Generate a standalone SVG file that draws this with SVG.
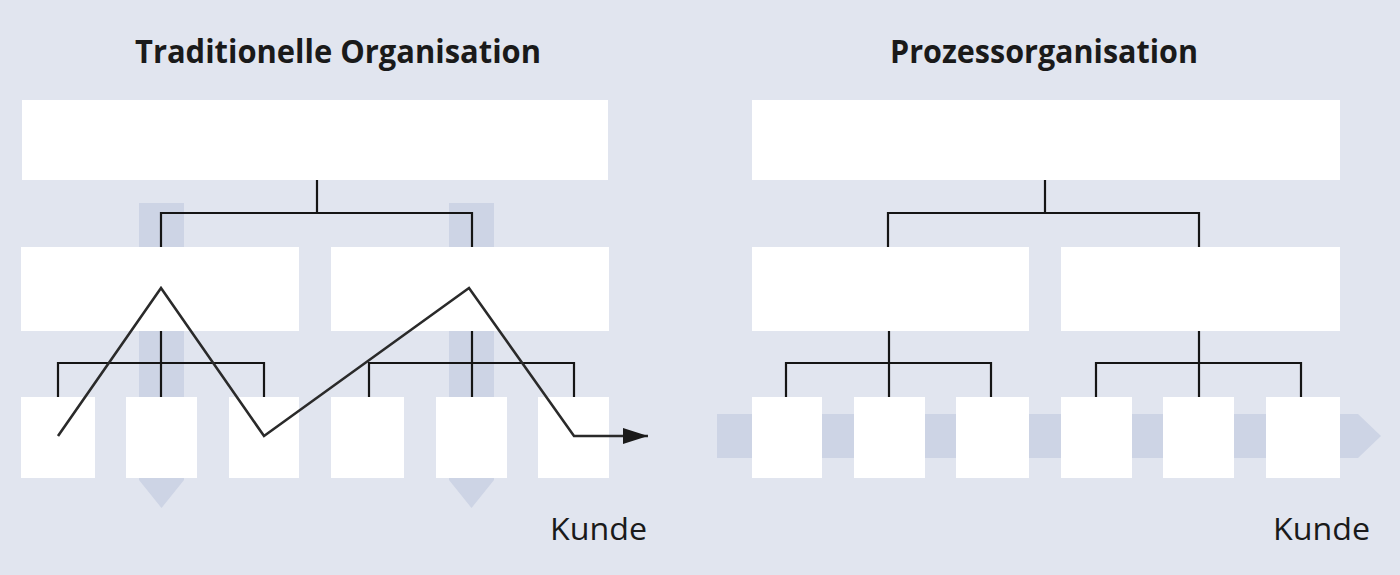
<svg xmlns="http://www.w3.org/2000/svg" width="1400" height="575" viewBox="0 0 1400 575">
<style>
.bg{fill:#e1e5ef}
.shade{fill:#cdd4e5}
.box{fill:#ffffff}
.conn{fill:none;stroke:#151515;stroke-width:2.2}
.zig{fill:none;stroke:#2a2a2a;stroke-width:2.6;stroke-linejoin:miter}
.title{font-family:"Open Sans","Liberation Sans",sans-serif;font-weight:700;font-size:33px;fill:#1a1a1a}
.lbl{font-family:"Open Sans","Liberation Sans",sans-serif;font-size:31px;fill:#1a1a1a}
</style>
<defs>
<marker id="ah" viewBox="0 0 25 16" refX="25" refY="8" markerUnits="userSpaceOnUse" markerWidth="25" markerHeight="16" orient="auto">
<path d="M0,0 L25,8 L0,16 Z" fill="#1a1a1a"/>
</marker>
</defs>
<rect class="bg" x="0" y="0" width="1400" height="575"/>
<g id="flows">
<path class="shade" d="M139,203 H184 V480 L161.5,508 L139,480 Z"/>
<path class="shade" d="M449,203 H494 V480 L471.5,508 L449,480 Z"/>
<path class="shade" d="M717,414 H1358 L1381,436 L1358,458 H717 Z"/>
</g>
<text class="title" x="135" y="63" textLength="406" lengthAdjust="spacingAndGlyphs">Traditionelle Organisation</text>
<text class="title" x="890" y="63" textLength="308" lengthAdjust="spacingAndGlyphs">Prozessorganisation</text>
<g id="connectors">
<path class="conn" d="M317,180 V213 M161,248 V213 H472 V248"/>
<path class="conn" d="M161,329 V398 M58,398 V363 H264 V398"/>
<path class="conn" d="M472,329 V398 M369,398 V363 H574 V398"/>
<path class="conn" d="M1045,180 V213 M888,248 V213 H1199 V248"/>
<path class="conn" d="M889,329 V398 M786,398 V363 H991 V398"/>
<path class="conn" d="M1199,329 V398 M1096,398 V363 H1301 V398"/>
</g>
<g id="left-top"><rect class="box" x="22" y="100" width="586" height="80"/></g>
<g id="left-mid-1"><rect class="box" x="21" y="247" width="278" height="84"/></g>
<g id="left-mid-2"><rect class="box" x="331" y="247" width="278" height="84"/></g>
<g id="left-b1"><rect class="box" x="21" y="397" width="74" height="81"/></g>
<g id="left-b2"><rect class="box" x="126" y="397" width="71" height="81"/></g>
<g id="left-b3"><rect class="box" x="229" y="397" width="70" height="81"/></g>
<g id="left-b4"><rect class="box" x="331" y="397" width="73" height="81"/></g>
<g id="left-b5"><rect class="box" x="436" y="397" width="71" height="81"/></g>
<g id="left-b6"><rect class="box" x="538" y="397" width="71" height="81"/></g>
<g id="right-top"><rect class="box" x="752" y="100" width="588" height="80"/></g>
<g id="right-mid-1"><rect class="box" x="752" y="247" width="277" height="84"/></g>
<g id="right-mid-2"><rect class="box" x="1061" y="247" width="279" height="84"/></g>
<g id="right-b1"><rect class="box" x="752" y="397" width="70" height="81"/></g>
<g id="right-b2"><rect class="box" x="854" y="397" width="71" height="81"/></g>
<g id="right-b3"><rect class="box" x="956" y="397" width="73" height="81"/></g>
<g id="right-b4"><rect class="box" x="1061" y="397" width="71" height="81"/></g>
<g id="right-b5"><rect class="box" x="1163" y="397" width="71" height="81"/></g>
<g id="right-b6"><rect class="box" x="1266" y="397" width="74" height="81"/></g>
<g id="process-path">
<polyline class="zig" points="58,436 161,288 264,436 469,288 574,436 648,436" marker-end="url(#ah)"/>
</g>
<text class="lbl" x="550" y="540" textLength="97" lengthAdjust="spacingAndGlyphs">Kunde</text>
<text class="lbl" x="1273" y="540" textLength="97" lengthAdjust="spacingAndGlyphs">Kunde</text>
</svg>
